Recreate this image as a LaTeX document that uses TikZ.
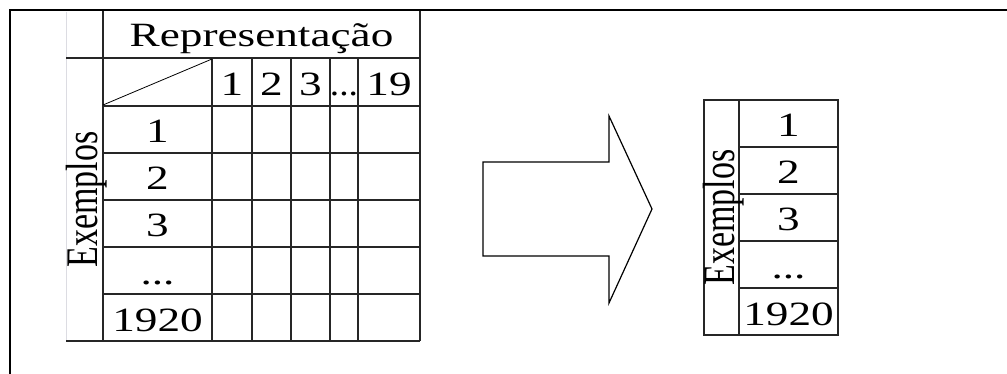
\documentclass[tikz,border=0pt]{standalone}
\usepackage{fontspec}
\setmainfont{Liberation Serif}
\usepackage{graphicx}
\newcommand{\wide}[1]{\scalebox{1.33}[1]{#1}}
\newcommand{\tall}[1]{\scalebox{1}[1.33]{#1}}
\tikzset{
  grid/.style={line width=1.1pt, draw=black!85},
  faint/.style={line width=0.8pt, draw=blue!10!gray!25},
  frame/.style={line width=1.5pt, draw=black},
  txt/.style={anchor=base, inner sep=0pt, font=\fontsize{34}{40}\selectfont},
  vtxt/.style={anchor=base, inner sep=0pt, rotate=90, font=\fontsize{34}{40}\selectfont},
  bigarrow/.style={line width=1.2pt, draw=black, fill=white, line join=miter},
}
\begin{document}
\begin{tikzpicture}[x=1pt,y=-1pt]
\useasboundingbox (0,0) rectangle (1007,374);
% outer frame (top and left only)
\coordinate (fTL) at (10,10);
\coordinate (fTR) at (1007,10);
\coordinate (fBL) at (10,374);
\draw[frame] (fBL) -- (fTL) -- (fTR);

% ---------- left table ----------
\draw[faint] (66,12) -- (66,341);
\draw[grid] (66,58) -- (420,58);
\draw[grid] (66,341) -- (420,341);
\foreach \y in {106,153,200,247,294} \draw[grid] (103,\y) -- (420,\y);
\draw[grid] (103,11) -- (103,341);
\draw[grid] (420,11) -- (420,341);
\foreach \x in {212,252,291,330,358} \draw[grid] (\x,58) -- (\x,341);
\draw[line width=0.8pt] (103,105) -- (212,59);

\node[txt] (rep) at (261.5,47) {\wide{Representação}};
\node[txt] (c1) at (232,96) {\wide{1}};
\node[txt] (c2) at (271.5,96) {\wide{2}};
\node[txt] (c3) at (310.5,96) {\wide{3}};
\node[txt] (cd) at (344,96) {\scalebox{1.1}[1]{...}};
\node[txt] (c19) at (389,96) {\wide{19}};
\node[vtxt] (exL) at (97.5,199.5) {\tall{Exemplos}};
\node[txt] (r1) at (157.5,143) {\wide{1}};
\node[txt] (r2) at (157.5,189.5) {\wide{2}};
\node[txt] (r3) at (157.5,236.5) {\wide{3}};
\node[txt] (rd) at (157.5,284) {\wide{...}};
\node[txt] (rn) at (157.5,331.5) {\wide{1920}};

% ---------- arrow ----------
\draw[bigarrow] (483,162) -- (609,162) -- (609,116) -- (652,209) -- (609,303) -- (609,256) -- (483,256) -- cycle;

% ---------- right table ----------
\draw[grid] (704,100) rectangle (838,335);
\draw[grid] (739,100) -- (739,335);
\foreach \y in {147,194,241,288} \draw[grid] (739,\y) -- (838,\y);
\node[vtxt] (exR) at (734.5,217.5) {\tall{Exemplos}};
\node[txt] (s1) at (788.5,137) {\wide{1}};
\node[txt] (s2) at (788.5,184) {\wide{2}};
\node[txt] (s3) at (788.5,231) {\wide{3}};
\node[txt] (sd) at (788.5,278) {\wide{...}};
\node[txt] (sn) at (788.5,325) {\wide{1920}};
\end{tikzpicture}
\end{document}
